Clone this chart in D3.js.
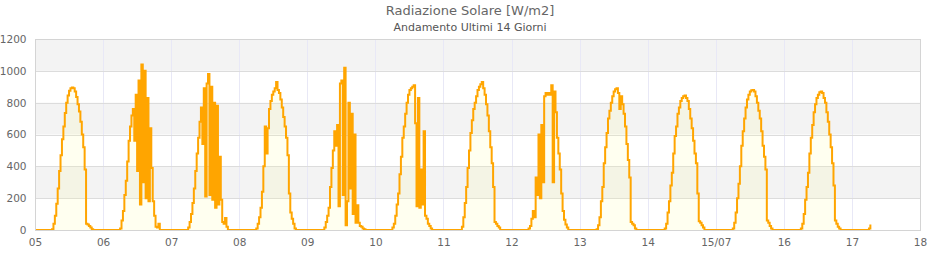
<!DOCTYPE html>
<html>
<head>
<meta charset="utf-8">
<script src="https://cdn.jsdelivr.net/npm/d3@7"></script>
<style>
body { margin:0; background:#fff; }
svg { display:block; font-family:"DejaVu Sans", sans-serif; }
</style>
</head>
<body>
<svg width="940" height="260"></svg>
<script>
// x tick labels, one per day (05 ... 18 luglio)
var dayLabels = ["05","06","07","08","09","10","11","12","13","14","15/07","16","17","18"];
var yTicks = [0, 200, 400, 600, 800, 1000, 1200];

// radiazione W/m2, un valore ogni 30 minuti (00:00 ... 23:30)
var r05 = [0,0,0,0,0,0,0,0,0,0,0,0, 5,40,90,165,260,370,470,570,650,735,800,845, 875,890,896,890,870,835,790,745,680,600,520,380, 40,35,25,15,5,0,0,0,0,0,0,0];
var r06 = [0,0,0,0,0,0,0,0,0,0,0,0, 10,60,120,220,310,430,560,650,720,760,560,850, 370,940,160,1040,300,1000,200,830,180,640,390,180, 90,20,15,40,0,0,0,0,0,0,0,0];
var r07 = [0,0,0,0,0,0,0,0,0,0,0,0, 15,50,100,170,260,370,480,580,680,770,540,890, 210,920,980,220,900,190,800,140,780,160,460,190, 50,40,75,20,0,0,0,0,0,0,0,0];
var r08 = [0,0,0,0,0,0,0,0,0,0,0,0, 10,40,80,140,240,400,650,480,640,760,810,850, 870,890,930,880,860,820,770,710,650,580,470,230, 110,70,40,10,0,0,0,0,0,0,0,0];
var r09 = [0,0,0,0,0,0,0,0,0,0,0,0, 15,50,90,140,270,390,500,620,530,660,150,920, 940,220,1020,30,180,800,260,730,100,600,45,155, 45,25,20,10,5,0,0,0,0,0,0,0];
var r10 = [0,0,0,0,0,0,0,0,0,0,0,0, 15,40,90,160,230,350,460,580,650,730,800,850, 880,890,900,910,670,150,830,140,380,160,620,90, 70,40,25,10,0,0,0,0,0,0,0,0];
var r11 = [0,0,0,0,0,0,0,0,0,0,0,0, 0,20,80,170,270,390,500,610,690,760,800,840, 880,900,915,930,890,850,790,720,620,520,420,270, 50,40,25,15,0,0,0,0,0,0,0,0];
var r12 = [0,0,0,0,0,0,0,0,0,0,0,0, 10,25,70,120,80,330,220,600,200,660,300,840, 860,850,860,850,910,300,870,740,580,480,380,230, 120,65,35,15,0,0,0,0,0,0,0,0];
var r13 = [0,0,0,0,0,0,0,0,0,0,0,0, 5,30,80,180,270,420,520,610,700,750,800,840, 870,885,890,860,760,840,790,730,650,540,440,330, 50,40,30,10,0,0,0,0,0,0,0,0];
var r14 = [0,0,0,0,0,0,0,0,0,0,0,0, 10,40,110,180,280,360,480,590,650,730,770,810, 830,840,845,830,810,760,700,640,560,480,420,230, 55,45,30,15,0,0,0,0,0,0,0,0];
var r15 = [0,0,0,0,0,0,0,0,0,0,0,0, 10,45,110,200,290,400,530,620,700,770,820,850, 870,878,880,870,840,800,750,700,620,530,460,380, 60,45,25,10,0,0,0,0,0,0,0,0];
var r16 = [0,0,0,0,0,0,0,0,0,0,0,0, 10,40,100,190,270,360,480,580,660,740,790,830, 850,865,870,860,830,800,740,680,600,520,420,280, 60,40,20,10,0,0,0,0,0,0,0,0];
var r17 = [0,0,0,0,0,0,0,0,0,0,0,0, 10,35];

var days = [r05, r06, r07, r08, r09, r10, r11, r12, r13, r14, r15, r16, r17];

var data = [];
days.forEach(function(vals, d) {
  vals.forEach(function(v, i) {
    data.push({t: d + i / 48, v: v});
  });
});

var svg = d3.select("svg");
var margin = {top: 39, right: 20, bottom: 30, left: 35};
var width = 940 - margin.left - margin.right;
var height = 260 - margin.top - margin.bottom;

var xScale = d3.scaleLinear().domain([0, dayLabels.length - 1]).range([0, width]);
var yScale = d3.scaleLinear().domain([0, 1200]).range([height, 0]);

var g = svg.append("g").attr("transform", "translate(" + margin.left + "," + margin.top + ")");

// bande alternate
g.selectAll("rect.band")
  .data(yTicks.slice(1).filter(function(d, i) { return i % 2 == 0; }))
  .enter()
  .append("rect")
  .attr("class", "band")
  .attr("x", 0)
  .attr("width", width)
  .attr("y", function(d) { return yScale(d + 200); })
  .attr("height", function(d) { return yScale(d) - yScale(d + 200); })
  .attr("fill", "#f3f3f3");

// griglia verticale
g.selectAll("line.vgrid")
  .data(d3.range(1, dayLabels.length - 1))
  .enter()
  .append("line")
  .attr("x1", function(d) { return Math.round(xScale(d)) + 0.5; })
  .attr("x2", function(d) { return Math.round(xScale(d)) + 0.5; })
  .attr("y1", 0)
  .attr("y2", height)
  .attr("stroke", "#e8e8f6");

// griglia orizzontale
g.selectAll("line.hgrid")
  .data(yTicks)
  .enter()
  .append("line")
  .attr("x1", 0)
  .attr("x2", width)
  .attr("y1", function(d) { return Math.round(yScale(d)) + 0.5; })
  .attr("y2", function(d) { return Math.round(yScale(d)) + 0.5; })
  .attr("stroke", "#dcdcdc");

var area = d3.area()
  .curve(d3.curveStepAfter)
  .x(function(d) { return xScale(d.t); })
  .y0(height)
  .y1(function(d) { return yScale(d.v); });

var line = d3.line()
  .curve(d3.curveStepAfter)
  .x(function(d) { return xScale(d.t); })
  .y(function(d) { return yScale(d.v); });

g.append("path")
  .datum(data)
  .attr("d", area)
  .attr("fill", "#ffff99")
  .attr("fill-opacity", 0.15);

g.append("path")
  .datum(data)
  .attr("d", line)
  .attr("fill", "none")
  .attr("stroke", "#ffa500")
  .attr("stroke-width", 2);

// bordo
g.append("rect")
  .attr("x", 0.5)
  .attr("y", 0.5)
  .attr("width", width)
  .attr("height", height)
  .attr("fill", "none")
  .attr("stroke", "#d4d4d4");

var xAxis = d3.axisBottom(xScale)
  .tickValues(d3.range(dayLabels.length))
  .tickFormat(function(d) { return dayLabels[d]; })
  .tickSize(0)
  .tickPadding(9);

var yAxis = d3.axisLeft(yScale)
  .tickValues(yTicks)
  .tickFormat(d3.format("d"))
  .tickSize(0)
  .tickPadding(8.5);

var xg = g.append("g").attr("transform", "translate(0," + height + ")").call(xAxis);
var yg = g.append("g").call(yAxis);

[xg, yg].forEach(function(ax) {
  ax.select(".domain").remove();
  ax.selectAll("text")
    .attr("fill", "#666")
    .style("font-family", "DejaVu Sans, sans-serif")
    .style("font-size", "10.5px");
});

svg.append("text")
  .attr("x", 470)
  .attr("y", 15)
  .attr("text-anchor", "middle")
  .attr("fill", "#666")
  .style("font-size", "13px")
  .text("Radiazione Solare [W/m2]");

svg.append("text")
  .attr("x", 470)
  .attr("y", 31)
  .attr("text-anchor", "middle")
  .attr("fill", "#555")
  .style("font-size", "11px")
  .text("Andamento Ultimi 14 Giorni");
</script>
</body>
</html>
